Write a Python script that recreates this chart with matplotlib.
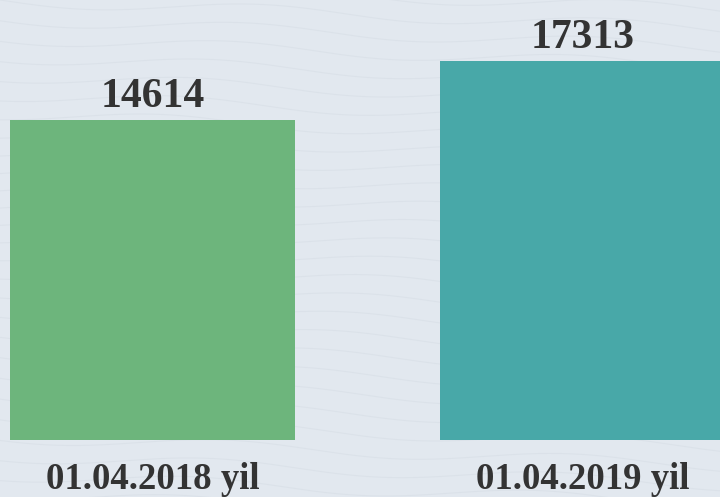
import numpy as np
import matplotlib.pyplot as plt

# data
dates = ['01.04.2018 yil', '01.04.2019 yil']
values = [14614, 17313]
colors = ['#6db57c', '#48a8a8']

plt.rcParams['font.family'] = ['Liberation Serif', 'DejaVu Serif']

fig = plt.figure(figsize=(7.2, 4.97), dpi=100)
fig.patch.set_facecolor('#e2e8ef')
ax = fig.add_axes([0, 0, 1, 1])
ax.set_facecolor('#e2e8ef')

# faint wavy background texture
bg = fig.add_axes([0, 0, 1, 1], zorder=-1)
bg.set_xlim(0, 720)
bg.set_ylim(497, 0)
bg.axis('off')
xs = np.linspace(0, 720, 400)
for k in range(-2, 30):
    y0 = k * 19
    bg.plot(xs, y0 + 6 * np.sin(xs / 55 + k * 0.3) + xs * 0.04,
            color='#d5dce4', lw=0.8, alpha=0.5)
ax.patch.set_alpha(0)

x = np.arange(len(values))
bars = ax.bar(x, values, width=0.663, color=colors)

for i, v in enumerate(values):
    ax.annotate(str(v), xy=(i, v), xytext=(0, 9.5), textcoords='offset points',
                ha='center', va='baseline', fontsize=30, fontweight='bold',
                color='#333333')
    ax.annotate(dates[i], xy=(i, 0), xytext=(0, -35.5), textcoords='offset points',
                ha='center', va='baseline', fontsize=26.5, fontweight='bold',
                color='#333333', annotation_clip=False)

ax.set_xlim(-0.3547, 1.3198)
ax.set_ylim(-2603, 20096)
ax.axis('off')

fig.savefig('out.png', dpi=100, facecolor=fig.get_facecolor())
